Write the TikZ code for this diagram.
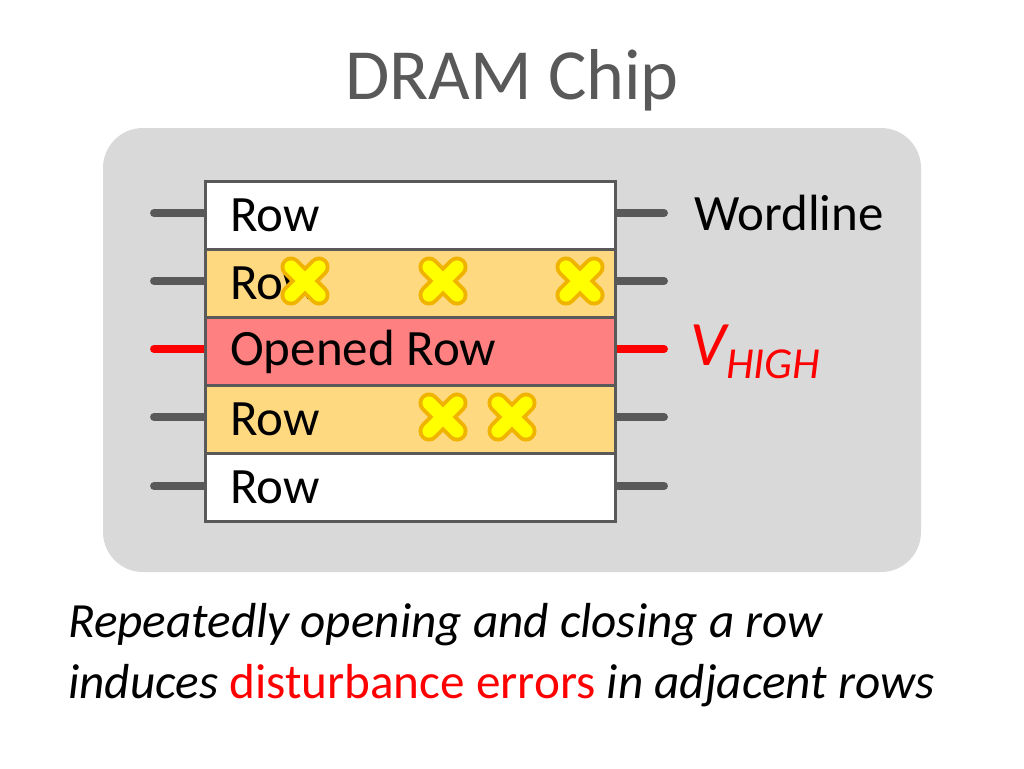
\documentclass[tikz,border=0pt]{standalone}
\usepackage{fontspec}
\setmainfont{Carlito}
\usetikzlibrary{calc}
\definecolor{dgray}{HTML}{595959}
\definecolor{chipgray}{HTML}{D9D9D9}
\definecolor{rowhot}{HTML}{FFD97F}
\definecolor{rowopen}{HTML}{FF8080}
\definecolor{xfill}{HTML}{FFFF00}
\definecolor{xline}{HTML}{F0B400}
\definecolor{hred}{HTML}{FF0000}
\begin{document}
\begin{tikzpicture}[x=0.02cm,y=-0.02cm,
    row/.style={draw=dgray,line width=1.7pt,minimum width=8.2cm,minimum height=1.36cm,anchor=north west,inner sep=0pt},
    rowtext/.style={font=\fontsize{29}{34}\selectfont,anchor=west,text=black},
    wire/.style={line width=4.5pt,draw=dgray,line cap=round},
    capt/.style={font=\fontsize{28}{34}\selectfont\itshape,anchor=west}]
\useasboundingbox (0,0) rectangle (1024,768);
\newcommand{\flipmark}[1]{%
  \draw[xline,line width=12pt,line cap=round] ($(#1)+(-14,-14)$) -- ($(#1)+(14,14)$) ($(#1)+(-14,14)$) -- ($(#1)+(14,-14)$);
  \draw[xfill,line width=7.5pt,line cap=round] ($(#1)+(-14,-14)$) -- ($(#1)+(14,14)$) ($(#1)+(-14,14)$) -- ($(#1)+(14,-14)$);}
\node[text=dgray,font=\fontsize{41}{46}\selectfont] (title) at (512,80) {DRAM Chip};
\fill[chipgray,rounded corners=0.8cm] (103,128) rectangle (921,572);
% wordlines
\foreach \y/\c in {213/dgray,281/dgray,349/hred,417/dgray,486/dgray}{
  \draw[wire,draw=\c] (154,\y) -- (204,\y);
  \draw[wire,draw=\c] (614,\y) -- (664,\y);}
% rows
\node[row,fill=white] (r1) at (204,180) {};
\node[row,fill=rowhot] (r2) at (204,248) {};
\node[row,fill=rowopen] (r3) at (204,316) {};
\node[row,fill=rowhot] (r4) at (204,384) {};
\node[row,fill=white] (r5) at (204,452) {};
\node[rowtext] at ([xshift=0.4cm]r1.west) {Row};
\node[rowtext] at ([xshift=0.4cm]r2.west) {Row};
\node[rowtext] at ([xshift=0.4cm]r3.west) {Opened Row};
\node[rowtext] at ([xshift=0.4cm]r4.west) {Row};
\node[rowtext] at ([xshift=0.4cm]r5.west) {Row};
% disturbed cells
\flipmark{305,281}
\flipmark{443,281}
\flipmark{580,281}
\flipmark{443,417}
\flipmark{512,417}
\node[rowtext] (wl) at (688,213) {Wordline};
\node[rowtext,text=hred,font=\fontsize{36}{40}\selectfont\itshape] (vh) at (684,352) {V\textsubscript{HIGH}};
\node[capt] (c1) at (62,625) {Repeatedly opening and closing a row};
\node[capt] (c2) at (62,686) {induces \textcolor{hred}{\upshape disturbance errors} in adjacent rows};
\end{tikzpicture}
\end{document}
